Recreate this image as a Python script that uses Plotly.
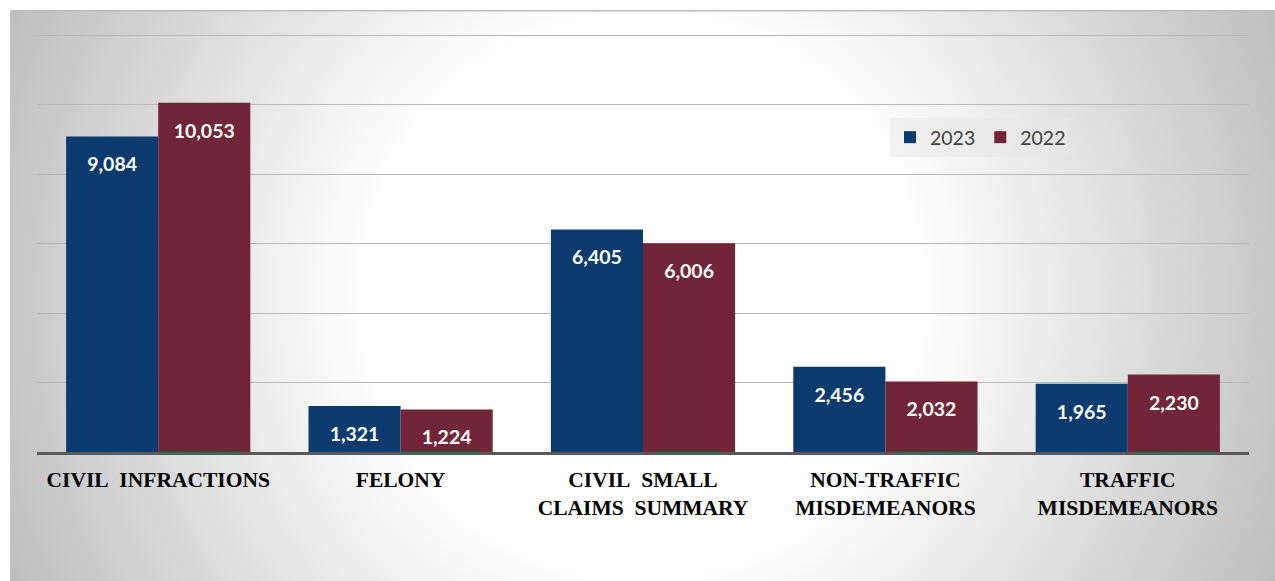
import base64
import plotly.graph_objects as go

# ---- data ----
categories = [
    "CIVIL\u00a0 INFRACTIONS",
    "FELONY",
    "CIVIL\u00a0 SMALL<br>CLAIMS\u00a0 SUMMARY",
    "NON-TRAFFIC<br>MISDEMEANORS",
    "TRAFFIC<br>MISDEMEANORS",
]
series_names = ["2023", "2022"]
values_2023 = [9084, 1321, 6405, 2456, 1965]
values_2022 = [10053, 1224, 6006, 2032, 2230]
y_tick_values = [0, 2000, 4000, 6000, 8000, 10000, 12000]

# ---- styles ----
W, H = 1275, 581
ML, MR, MT, MB = 37, 26, 33, 129
colors = ["#0B3B6E", "#722539"]
BARGAP = 0.24
Y_MAX = 12060

pw = W - ML - MR
ph = H - MT - MB

# radial gradient background (chart area), as an svg image
gx0, gy0 = 10, 10
gw, gh = W - gx0, H - gy0
svg = f"""<svg xmlns='http://www.w3.org/2000/svg' width='{gw}' height='{gh}' viewBox='0 0 {gw} {gh}' preserveAspectRatio='none'>
<defs><radialGradient id='g' gradientUnits='userSpaceOnUse' cx='{gw/2}' cy='{gh/2}' r='700'>
<stop offset='0' stop-color='#ffffff'/><stop offset='0.4' stop-color='#ffffff'/><stop offset='1' stop-color='#bdbdbd'/>
</radialGradient></defs>
<rect x='0' y='0' width='{gw}' height='{gh}' fill='url(#g)'/>
<rect x='0' y='0' width='{gw}' height='1.5' fill='#bdbdbd'/>
<rect x='0' y='0' width='1.5' height='{gh}' fill='#c4c4c4'/>
</svg>"""
src = "data:image/svg+xml;base64," + base64.b64encode(svg.encode()).decode()

fig = go.Figure()
for name, vals, col in zip(series_names, [values_2023, values_2022], colors):
    fig.add_trace(go.Bar(
        x=categories, y=vals, name=name,
        marker=dict(color=col, line=dict(width=0)),
        hoverinfo="skip",
    ))
for name, vals in zip(series_names, [values_2023, values_2022]):
    fig.add_trace(go.Scatter(
        x=categories, y=vals, mode="markers+text",
        text=[f"{v:,}" for v in vals], textposition="bottom center",
        textfont=dict(family="Lato", size=19.5, color="white", weight="bold"),
        marker=dict(size=31, opacity=0),
        showlegend=False, hoverinfo="skip", cliponaxis=False,
    ))

fig.update_layout(
    width=W, height=H,
    margin=dict(l=ML, r=MR, t=MT, b=MB),
    paper_bgcolor="white", plot_bgcolor="rgba(0,0,0,0)",
    barmode="group", bargap=BARGAP, bargroupgap=0,
    scattermode="group", scattergap=BARGAP,
    showlegend=True,
    legend=dict(
        orientation="h", x=(890 - ML) / pw, y=(452 - 118) / ph,
        xanchor="left", yanchor="top",
        bgcolor="rgba(232,232,232,0.55)", borderwidth=0,
        font=dict(family="Lato", size=19.5, color="#404040"),
        itemclick=False, itemdoubleclick=False,
    ),
    images=[dict(
        source=src, xref="paper", yref="paper",
        x=(gx0 - ML) / pw, y=(H - MB - gy0) / ph,
        sizex=gw / pw, sizey=gh / ph,
        xanchor="left", yanchor="top", sizing="stretch", layer="below",
    )],
    xaxis=dict(
        showline=True, linecolor="#595959", linewidth=3,
        ticks="", showgrid=False,
        tickfont=dict(family="Liberation Serif", size=21.5, color="black", weight="bold"),
        ticklabelstandoff=6,
    ),
    yaxis=dict(
        range=[0, Y_MAX], tickvals=y_tick_values, showticklabels=False,
        showgrid=True, gridcolor="#b9b9b9", gridwidth=1, zeroline=False,
        fixedrange=True,
    ),
)

fig.write_html("out.html", config={"displayModeBar": False},
               post_script="document.body.style.margin='0';")
